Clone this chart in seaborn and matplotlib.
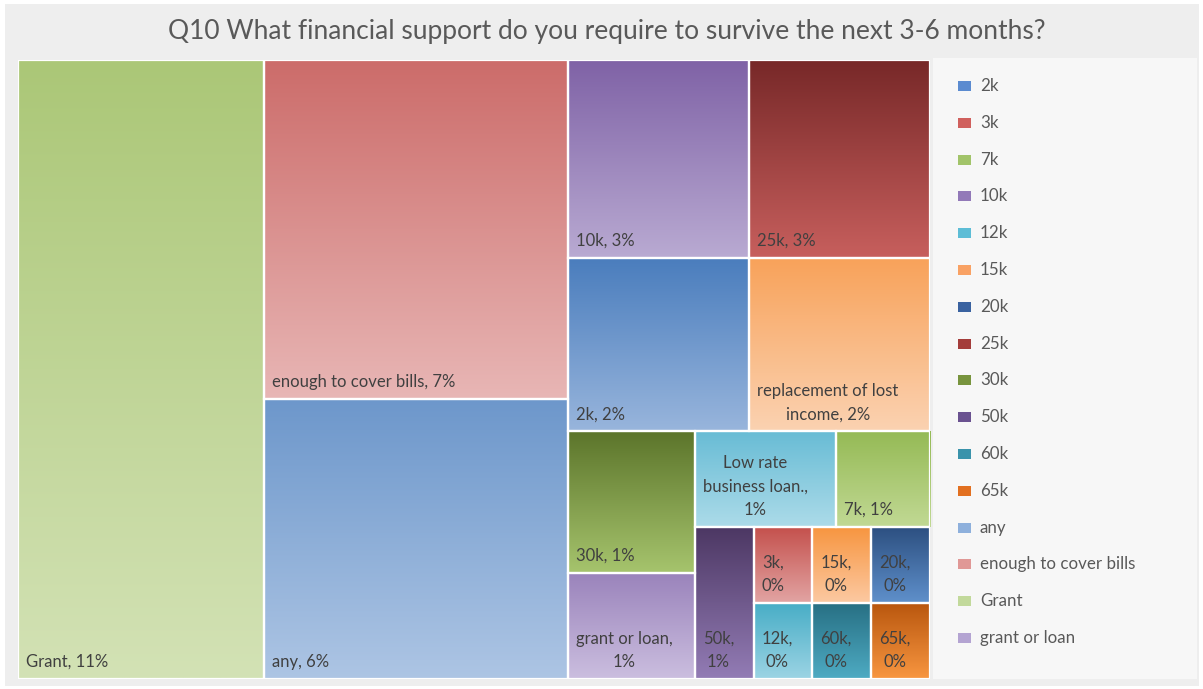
import matplotlib
matplotlib.use("Agg")
import matplotlib.pyplot as plt
from matplotlib.patches import Rectangle
import numpy as np
import seaborn as sns

# Survey answers to Q10, in treemap drawing order
categories = ["Grant", "enough to cover bills", "any", "10k", "25k", "2k",
              "replacement of lost income", "30k", "grant or loan",
              "Low rate business loan.", "7k", "50k",
              "3k", "12k", "15k", "60k", "20k", "65k"]
counts = [34, 23, 19, 8, 8, 7, 7, 4, 3, 3, 2, 2, 1, 1, 1, 1, 1, 1]
respondents = 310

legend_labels = ["2k", "3k", "7k", "10k", "12k", "15k", "20k", "25k", "30k",
                 "50k", "60k", "65k", "any", "enough to cover bills", "Grant",
                 "grant or loan"]

title = "Q10 What financial support do you require to survive the next 3-6 months?"

# (top colour, bottom colour) of each tile's vertical gradient
shades = {
    "Grant": ("#abc777", "#d3e2b5"),
    "enough to cover bills": ("#cc6c6a", "#e8b6b5"),
    "any": ("#6d97cb", "#adc5e4"),
    "10k": ("#7f62a6", "#b9aad2"),
    "25k": ("#772828", "#c75f5d"),
    "2k": ("#4a7dbd", "#98b5dc"),
    "replacement of lost income": ("#f8a25a", "#fbd2b1"),
    "30k": ("#5c752b", "#a6c46d"),
    "grant or loan": ("#9a83bb", "#cbbedf"),
    "Low rate business loan.": ("#68bcd5", "#acdbe9"),
    "7k": ("#95ba55", "#c1d994"),
    "50k": ("#4c3763", "#937cb5"),
    "3k": ("#c4504c", "#e2a4a3"),
    "12k": ("#47adc6", "#9cd4e4"),
    "15k": ("#f7953f", "#fcc9a2"),
    "60k": ("#276f83", "#4eabc3"),
    "20k": ("#2c4f80", "#5f90cb"),
    "65k": ("#b8560e", "#f89640"),
}
swatch = {
    "2k": "#5b8bd0", "3k": "#d0605d", "7k": "#a2c46a", "10k": "#9279b8",
    "12k": "#5dbdd6", "15k": "#f9a264", "20k": "#3a62a0", "25k": "#a43d3b",
    "30k": "#78943e", "50k": "#6a5290", "60k": "#3a93ab", "65k": "#e27020",
    "any": "#8eb0dc", "enough to cover bills": "#e09896",
    "Grant": "#c2d99b", "grant or loan": "#b4a4d2",
}

# Sequence of strips: direction and number of tiles taken from the list
strips = [("col", 1), ("col", 2), ("row", 2), ("row", 2), ("col", 2),
          ("row", 2), ("col", 1), ("col", 2), ("col", 2), ("col", 2)]


def strip_layout(values, plan, x, y, w, h):
    rects = []
    i = 0
    for orient, n in plan:
        group = values[i:i + n]
        share = sum(group) / sum(values[i:])
        if orient == "col":
            sw = w * share
            top = y + h
            for v in group:
                ch = h * v / sum(group)
                rects.append((x, top - ch, sw, ch))
                top -= ch
            x += sw
            w -= sw
        else:
            sh = h * share
            left = x
            for v in group:
                cw = w * v / sum(group)
                rects.append((left, y + h - sh, cw, sh))
                left += cw
            h -= sh
        i += n
    return rects


W, H = 1203, 689
sns.set_theme(style="white")
plt.rcParams["font.family"] = ["Lato", "DejaVu Sans"]

fig = plt.figure(figsize=(W / 100, H / 100), dpi=100, facecolor="white")

# chart frame and legend panel
fig.add_artist(Rectangle((5 / W, 1 - 686 / H), 1194 / W, 682 / H,
                         transform=fig.transFigure, facecolor="#eeeeee",
                         edgecolor="none", zorder=0))
fig.add_artist(Rectangle((933 / W, 1 - 679 / H), 264 / W, 621 / H,
                         transform=fig.transFigure, facecolor="#f7f7f7",
                         edgecolor="none", zorder=0))

px0, py0, pw, ph = 18, 60, 912, 619
ax = fig.add_axes([px0 / W, 1 - (py0 + ph) / H, pw / W, ph / H])
ax.set_xlim(0, pw)
ax.set_ylim(0, ph)
ax.axis("off")

rects = strip_layout(counts, strips, 0, 0, pw, ph)
renderer = fig.canvas.get_renderer()
label_kw = dict(fontsize=12, color="#404040")


def text_width(s):
    t = ax.text(0, 0, s, **label_kw)
    wpx = t.get_window_extent(renderer=renderer).width
    t.remove()
    return wpx


def wrap(s, max_px):
    words = s.split(" ")
    lines, cur = [], ""
    for wd in words:
        trial = wd if not cur else cur + " " + wd
        if text_width(trial) <= max_px or not cur:
            cur = trial
        else:
            lines.append(cur)
            cur = wd
    lines.append(cur)
    return "\n".join(lines)


for name, n, (x, y, w, h) in zip(categories, counts, rects):
    top, bottom = shades[name]
    grad = np.array(sns.blend_palette([top, bottom], n_colors=128))[:, None, :]
    ax.imshow(grad, extent=(x, x + w, y, y + h), aspect="auto",
              interpolation="bilinear", origin="upper", zorder=1)
    ax.add_patch(Rectangle((x, y), w, h, fill=False, edgecolor="white",
                           linewidth=1.6, zorder=2))
    pct = round(100 * n / respondents)
    label = wrap(f"{name}, {pct}%", w - 16)
    ax.text(x + 8, y + 9, label, ha="left", va="bottom",
            multialignment="center", linespacing=1.55, zorder=3, **label_kw)

ax.set_xlim(0, pw)
ax.set_ylim(0, ph)

fig.text(607 / W, 1 - 31 / H, title, ha="center", va="center",
         fontsize=19, color="#595959")

for k, lab in enumerate(legend_labels):
    yc = 86 + k * 36.8
    fig.add_artist(Rectangle((958 / W, 1 - (yc + 5) / H), 13 / W, 10 / H,
                             transform=fig.transFigure, facecolor=swatch[lab],
                             edgecolor="none"))
    fig.text(980 / W, 1 - yc / H, lab, ha="left", va="center",
             fontsize=12.2, color="#595959")

fig.savefig("out.png", dpi=100, facecolor="white")
